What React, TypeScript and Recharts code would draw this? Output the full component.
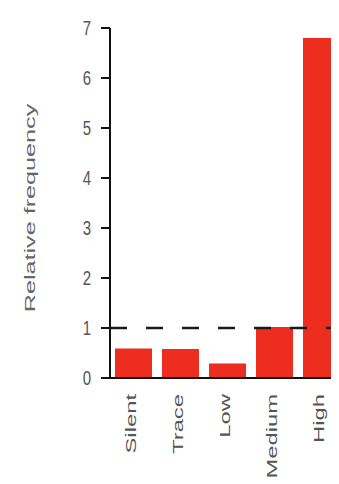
import React from 'react'
import {Bar, BarChart, ReferenceLine, XAxis, YAxis} from 'recharts';

const categories = ['Silent', 'Trace', 'Low', 'Medium', 'High'];
const frequency = [0.59, 0.58, 0.29, 1.02, 6.8];
const yTicks = [0, 1, 2, 3, 4, 5, 6, 7];
const baseline = 1;

const data = categories.map((name, i) => ({name, value: frequency[i]}));

const font = '"Liberation Sans", Arial, sans-serif';
const textColor = '#555';

// the figure is stretched vertically, so text gets a y-scale
const YTick = ({x, y, payload}: any) => (
    <text
        transform={`translate(${x},${y}) scale(1,1.35)`}
        textAnchor="end"
        dominantBaseline="central"
        fontSize={15}
        fontFamily={font}
        fill={textColor}>
        {payload.value}
    </text>
);

const XTick = ({x, y, payload}: any) => (
    <text
        transform={`translate(${x - 3},${y}) scale(1,1.7) rotate(-90)`}
        textAnchor="end"
        dominantBaseline="central"
        fontSize={14}
        fontFamily={font}
        fill={textColor}>
        {payload.value}
    </text>
);

const YLabel = ({viewBox}: any) => {
    const cx = viewBox.x + 22;
    const cy = viewBox.y + viewBox.height / 2 + 5;
    return (
        <text
            transform={`translate(${cx},${cy}) scale(1,1.8) rotate(-90)`}
            textAnchor="middle"
            dominantBaseline="central"
            fontSize={14}
            fontFamily={font}
            fill="#666">
            Relative frequency
        </text>
    );
};

export default function App() {
    return (
        <BarChart
            width={337}
            height={476}
            data={data}
            margin={{top: 20, right: 0, bottom: 0, left: 0}}>
            <XAxis
                dataKey="name"
                height={106}
                axisLine={{stroke: '#111', strokeWidth: 2}}
                tickLine={false}
                tickMargin={10}
                interval={0}
                tick={<XTick/>}
            />
            <YAxis
                width={102}
                domain={[0, 7]}
                ticks={yTicks}
                interval={0}
                axisLine={{stroke: '#111', strokeWidth: 2}}
                tickLine={{stroke: '#111', strokeWidth: 2}}
                tickSize={9}
                tickMargin={10}
                tick={<YTick/>}
                label={{content: <YLabel/>}}
            />
            <Bar
                dataKey="value"
                fill="#EC2D20"
                barSize={37}
                isAnimationActive={false}/>
            <ReferenceLine
                y={baseline}
                stroke="#1a1a1a"
                strokeWidth={2.5}
                strokeDasharray="17 19"/>
        </BarChart>
    )
}
